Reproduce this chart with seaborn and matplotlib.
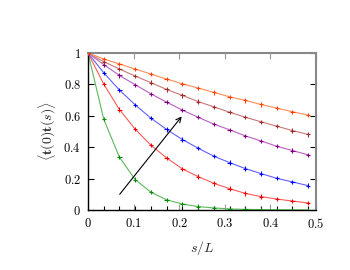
import numpy as np
import pandas as pd
import matplotlib
matplotlib.use("Agg")
import matplotlib.pyplot as plt
import seaborn as sns

sns.set_style("ticks")
plt.rcParams["mathtext.fontset"] = "cm"
plt.rcParams["font.family"] = ["DejaVu Serif"]

s = [0, 1/29, 2/29, 3/29, 4/29, 5/29, 6/29, 7/29, 8/29, 9/29, 10/29, 11/29, 12/29, 13/29, 14/29]
green = [1, 0.579, 0.336, 0.194, 0.113, 0.065, 0.038, 0.022, 0.013, 0.007, 0.004, 0.0025, 0.0014, 0.0008, 0.0005]
red = [1, 0.802, 0.640, 0.515, 0.413, 0.332, 0.262, 0.213, 0.170, 0.136, 0.106, 0.085, 0.070, 0.057, 0.045]
blue = [1, 0.874, 0.764, 0.670, 0.585, 0.513, 0.449, 0.394, 0.343, 0.302, 0.264, 0.232, 0.202, 0.179, 0.155]
purple = [1, 0.926, 0.857, 0.798, 0.740, 0.687, 0.636, 0.591, 0.547, 0.511, 0.472, 0.440, 0.406, 0.379, 0.351]
brown = [1, 0.945, 0.898, 0.853, 0.811, 0.768, 0.730, 0.691, 0.657, 0.623, 0.591, 0.562, 0.534, 0.506, 0.481]
orange = [1, 0.962, 0.930, 0.898, 0.866, 0.834, 0.804, 0.777, 0.749, 0.721, 0.698, 0.672, 0.649, 0.626, 0.604]

series = {"green": green, "red": red, "blue": blue, "purple": purple, "brown": brown, "orange": orange}
line_colors = {"green": "#5cb85c", "red": "#ff5a5a", "blue": "#6060ff", "purple": "#b860c0",
               "brown": "#c87878", "orange": "#ff8c5a"}
marker_colors = {"green": "#008a00", "red": "#f00000", "blue": "#0000f0", "purple": "#800080",
                 "brown": "#a02828", "orange": "#ff4000"}

xticks = [0, 0.1, 0.2, 0.3, 0.4, 0.5]
xticklabels = ["0", "0.1", "0.2", "0.3", "0.4", "0.5"]
yticks = [0, 0.2, 0.4, 0.6, 0.8, 1.0]
yticklabels = ["0", "0.2", "0.4", "0.6", "0.8", "1"]

arrow_start = (0.0695, 0.10)
arrow_end = (0.2055, 0.596)

rows = []
for name, vals in series.items():
    for x, y in zip(s, vals):
        rows.append({"s": x, "t": y, "series": name})
df = pd.DataFrame(rows)

fig = plt.figure(figsize=(3.5, 2.7), dpi=100)
ax = fig.add_axes([0.2514, 0.2222, 0.6515, 0.5815])

sns.lineplot(data=df, x="s", y="t", hue="series", palette=line_colors, lw=0.8,
             legend=False, ax=ax, zorder=2)
sns.scatterplot(data=df, x="s", y="t", hue="series", palette=marker_colors, marker="+",
                s=10, linewidth=0.8, legend=False, ax=ax, zorder=3)

ax.annotate("", xy=arrow_end, xytext=arrow_start,
            arrowprops=dict(arrowstyle="->", color="black", lw=0.8, shrinkA=0, shrinkB=0,
                            mutation_scale=9))

ax.set_xlim(0, 0.5)
ax.set_ylim(0, 1)
ax.set_xticks(xticks)
ax.set_xticklabels([f"${t}$" for t in xticklabels])
ax.set_yticks(yticks)
ax.set_yticklabels([f"${t}$" for t in yticklabels])
ax.set_xticks(s[1:], minor=True)
ax.tick_params(axis="both", which="major", direction="in", length=4, width=0.8,
               labelsize=9, top=True, right=True, colors="black", pad=5)
ax.tick_params(axis="x", which="major", color="#999999")
ax.tick_params(axis="x", which="minor", direction="in", length=3, width=0.8,
               color="black", top=False)
ax.tick_params(axis="y", which="minor", left=False, right=False)

for side in ["left", "bottom"]:
    ax.spines[side].set_color("black")
    ax.spines[side].set_linewidth(1.0)
for side in ["top", "right"]:
    ax.spines[side].set_color("#888888")
    ax.spines[side].set_linewidth(1.5)
    ax.spines[side].set_visible(True)

ax.set_xlabel(r"$s/L$", fontsize=10, labelpad=6)
ax.set_ylabel(r"$\langle\mathbf{t}(0)\mathbf{t}(s)\rangle$", fontsize=10, labelpad=4)

fig.savefig("out.png", dpi=100)
